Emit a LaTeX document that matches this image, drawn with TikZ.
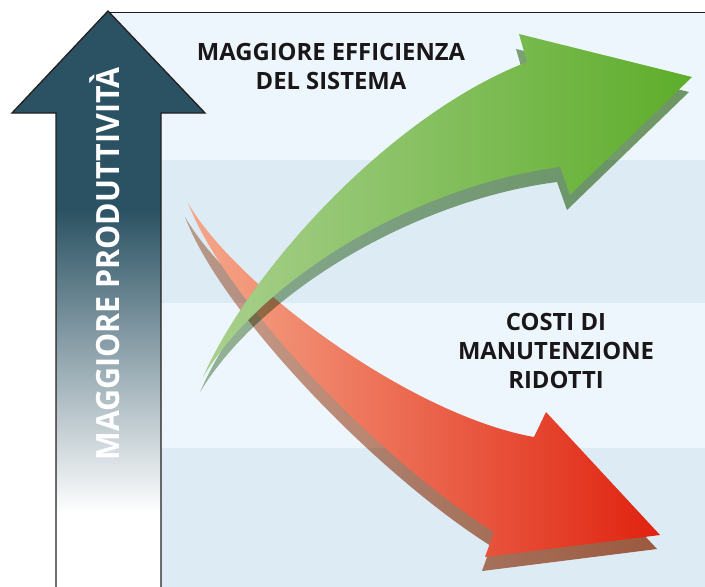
\documentclass[tikz,border=0pt]{standalone}
\usepackage{fontspec}
\setmainfont{Open Sans}
\newfontfamily\prodfont[FakeStretch=0.95]{Open Sans}
\definecolor{prodteal}{HTML}{2B5263}
\definecolor{panelline}{HTML}{231F20}
\definecolor{labelink}{HTML}{1A1718}
\definecolor{bandlight}{HTML}{EEF6FD}
\definecolor{banddark}{HTML}{DDEBF4}
\definecolor{greenL}{HTML}{A9D08E}
\definecolor{greenR}{HTML}{5DAD2A}
\definecolor{greenshL}{HTML}{9EB899}
\definecolor{greenshR}{HTML}{759C63}
\definecolor{redL}{HTML}{F5A88A}
\definecolor{redR}{HTML}{E0220F}
\definecolor{redshL}{HTML}{D4A691}
\definecolor{redshR}{HTML}{B36142}
\pgfdeclareverticalshading{prodfade}{100bp}{color(0bp)=(white); color(32bp)=(white); color(58bp)=(prodteal); color(100bp)=(prodteal)}

\begin{document}
\begin{tikzpicture}[x=1pt, y=-1pt, line join=miter,
    title text/.style={font=\bfseries\fontsize{23.8}{29}\selectfont, text=labelink, align=center, inner sep=0pt}]
  % arrow outlines (px, y down)
  \def\greenarrow{(203,377) .. controls (250,270) and (390,115) .. (527,62) -- (519,34) -- (692,77) -- (570,195) -- (560,167) .. controls (420,185) and (265,275) .. (203,377) -- cycle}
  \def\redarrow{(188,203) .. controls (235,285) and (410,415) .. (534,437) -- (546,412) -- (660,535) -- (485,557) -- (494,532) .. controls (380,460) and (225,300) .. (188,203) -- cycle}
  \useasboundingbox (0,0) rectangle (705,587);

  % --- Background bands ---
  \fill[bandlight] (108,12) rectangle (705,587);
  \fill[banddark] (108,160) rectangle (705,303);
  \fill[banddark] (108,448) rectangle (705,587);
  \draw[thin, panelline] (108,12) -- (705,12);

  % --- Productivity arrow ---
  \shade[shading=prodfade, draw=panelline, line width=1.3pt]
    (56,595) -- (56,113) -- (12,113) -- (108,11) -- (205,113) -- (161,113) -- (161,595);
  \node[rotate=90, anchor=base, text=white, inner sep=0pt,
        font=\prodfont\bfseries\fontsize{32}{32}\selectfont] (prod) at (119,264) {MAGGIORE PRODUTTIVITÀ};

  % --- Costs arrow (down) ---
  \begin{scope}[shift={(-3,14)}, blend mode=multiply]
    \shade[left color=redshL, right color=redshR] \redarrow;
  \end{scope}
  \shade[left color=redL, right color=redR] \redarrow;

  % --- Efficiency arrow (up) ---
  \begin{scope}[shift={(-3,15)}, blend mode=multiply]
    \shade[left color=greenshL, right color=greenshR] \greenarrow;
  \end{scope}
  \shade[left color=greenL, right color=greenR] \greenarrow;

  % Labels
  \node[title text, anchor=north] (eff) at (331,43) {MAGGIORE EFFICIENZA\\DEL SISTEMA};
  \node[title text, anchor=north] (cost) at (556,313) {COSTI DI\\MANUTENZIONE\\RIDOTTI};
\end{tikzpicture}
\end{document}
